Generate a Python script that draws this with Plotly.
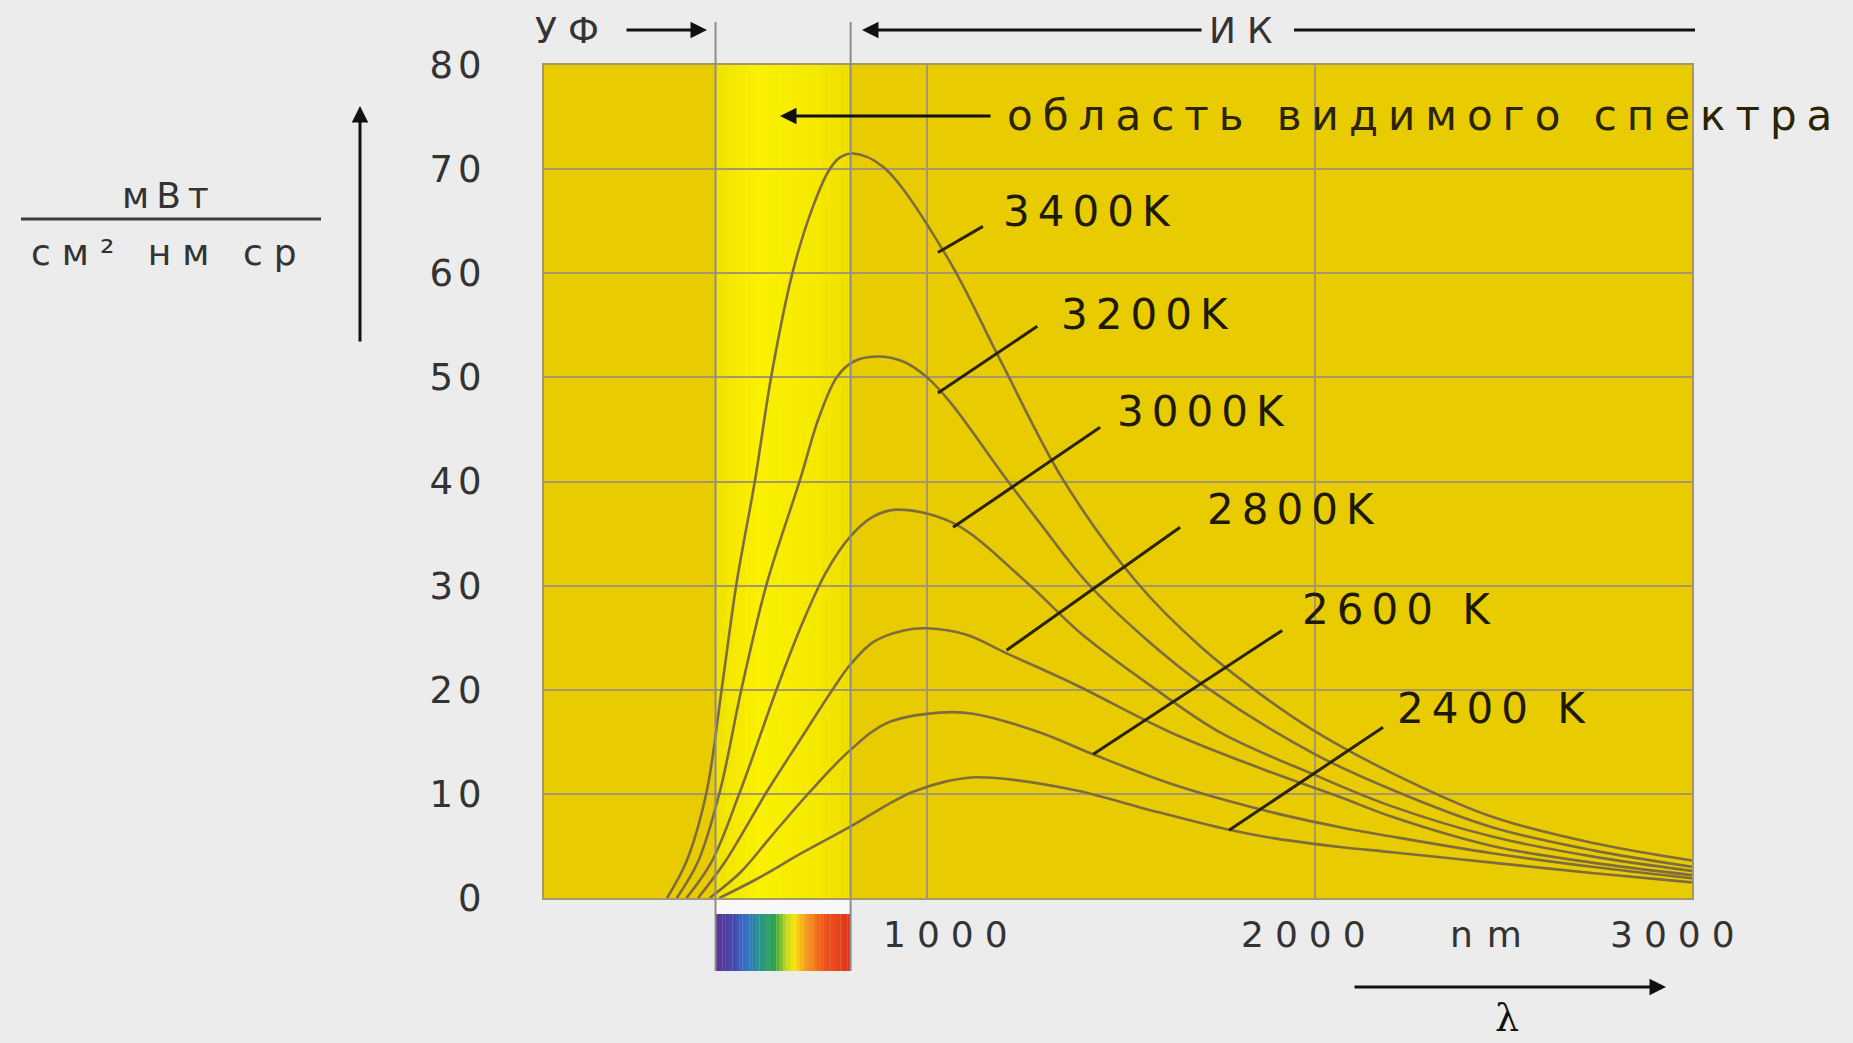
import plotly.graph_objects as go

# ---------------- data ----------------
curve_names = ["3400K", "3200K", "3000K", "2800K", "2600 K", "2400 K"]

wl_3400 = [330, 380, 432, 471, 509, 557, 600, 655, 706, 746, 775, 810, 887, 1051, 1188, 1350, 1541, 1703, 1858, 2000, 2198, 2456, 2713, 2971]
rad_3400 = [0, 3.5, 10.2, 20.1, 30.2, 40.2, 50.4, 60.3, 66.4, 69.8, 71.1, 71.5, 70.2, 61.6, 51.7, 40.2, 30.3, 24.2, 19.6, 16.0, 12.0, 7.8, 5.3, 3.6]

wl_3200 = [355, 410, 466, 522, 587, 673, 720, 767, 810, 870, 940, 1000, 1060, 1205, 1291, 1412, 1560, 1721, 2000, 2198, 2456, 2713, 2971]
rad_3200 = [0, 3.5, 10.2, 20.1, 30.2, 40.2, 46.0, 50.0, 51.5, 52.0, 51.5, 50.0, 47.6, 40.2, 36.0, 30.3, 25.0, 20.2, 13.8, 10.4, 6.8, 4.6, 3.0]

wl_3000 = [380, 445, 518, 613, 680, 740, 802, 860, 922, 1068, 1257, 1400, 1583, 1760, 2000, 2198, 2456, 2713, 2971]
rad_3000 = [0, 3.5, 10.2, 20.1, 26.5, 31.3, 34.7, 36.6, 37.3, 36.0, 30.3, 25.3, 20.2, 15.8, 11.8, 8.8, 5.9, 4.0, 2.6]

wl_2800 = [410, 480, 587, 673, 758, 802, 862, 940, 1000, 1100, 1205, 1376, 1634, 1892, 2064, 2198, 2456, 2713, 2971]
rad_2800 = [0, 3.5, 10.2, 15.2, 20.1, 22.4, 24.6, 25.7, 25.9, 25.3, 23.5, 20.6, 15.8, 12.0, 9.7, 7.8, 5.0, 3.4, 2.2]

wl_2600 = [440, 520, 600, 698, 802, 896, 1033, 1118, 1291, 1428, 1634, 1892, 2064, 2198, 2456, 2713, 2971]
rad_2600 = [0, 2.5, 6.0, 10.2, 14.2, 16.8, 17.8, 17.7, 15.9, 13.8, 10.9, 8.2, 6.8, 5.9, 4.3, 3.0, 1.9]

wl_2400 = [465, 560, 681, 809, 900, 964, 1050, 1130, 1376, 1549, 1772, 1900, 2064, 2198, 2456, 2713, 2971]
rad_2400 = [0, 1.8, 4.4, 7.0, 9.0, 10.2, 11.2, 11.6, 10.4, 8.7, 6.6, 5.7, 4.9, 4.4, 3.4, 2.4, 1.5]

y_tick_values = [0, 10, 20, 30, 40, 50, 60, 70, 80]
x_grid_values = [1000, 2000]
x_tick_labels = ["1000", "2000", "3000"]
x_tick_label_pos = [1062, 1984, 2935]
visible_band = [455, 803]

# ---------------- geometry / style ----------------
W, H = 1853, 1043
L, R, T, B = 544, 161, 65, 145
PW, PH = W - L - R, H - T - B
X_RANGE = [13, 2971]
Y_RANGE = [0, 80]

PAPER_BG = "#ECECEC"
PLOT_BG = "#E8CB00"
GRID = "#A6976C"
CURVE = "#7E6C3E"
LEADER = "#2A2400"
TEXT = "#333333"
LABEL = "#1E1A00"
FONT = "DejaVu Sans"


def px_x(fx):
    return (fx - L) / PW


def px_y(fy):
    return (H - B - fy) / PH


def spaced(text, ls):
    return '<span style="letter-spacing:%dpx">%s</span>' % (ls, text)


def lerp_color(stops, t):
    for i in range(len(stops) - 1):
        t0, c0 = stops[i]
        t1, c1 = stops[i + 1]
        if t0 <= t <= t1:
            f = 0 if t1 == t0 else (t - t0) / (t1 - t0)
            c = [round(c0[k] + (c1[k] - c0[k]) * f) for k in range(3)]
            return "rgb(%d,%d,%d)" % tuple(c)
    return "rgb(%d,%d,%d)" % tuple(stops[-1][1])


fig = go.Figure()

wls = [wl_3400, wl_3200, wl_3000, wl_2800, wl_2600, wl_2400]
rads = [rad_3400, rad_3200, rad_3000, rad_2800, rad_2600, rad_2400]
for name, xs, ys in zip(curve_names, wls, rads):
    fig.add_trace(go.Scatter(
        x=xs, y=ys, mode="lines", name=name, showlegend=False, hoverinfo="skip",
        line=dict(color=CURVE, width=2.6, shape="spline", smoothing=1.0),
    ))

shapes = []
annotations = []

# visible band (bright yellow gradient)
band_stops = [(0.0, (240, 226, 0)), (0.3, (250, 240, 0)), (0.7, (246, 235, 0)), (1.0, (238, 221, 0))]
n_band = 14
bx0, bx1 = visible_band
for i in range(n_band):
    a = bx0 + (bx1 - bx0) * i / n_band
    b = bx0 + (bx1 - bx0) * (i + 1) / n_band
    shapes.append(dict(type="rect", xref="x", yref="y", x0=a, x1=b + 1, y0=Y_RANGE[0], y1=Y_RANGE[1],
                       fillcolor=lerp_color(band_stops, (i + 0.5) / n_band), line=dict(width=0), layer="below"))

# white gap under plot between band edges
shapes.append(dict(type="rect", xref="x", yref="paper", x0=bx0, x1=bx1, y0=px_y(914), y1=px_y(900),
                   fillcolor="#F8F8F8", line=dict(width=0), layer="above"))

# spectrum bar
spec_stops = [(0.0, (92, 52, 150)), (0.12, (72, 68, 168)), (0.22, (52, 110, 200)), (0.33, (40, 150, 140)),
              (0.44, (50, 165, 70)), (0.52, (190, 215, 30)), (0.58, (248, 232, 10)), (0.66, (246, 160, 30)),
              (0.8, (240, 85, 25)), (1.0, (222, 50, 30))]
n_spec = 40
for i in range(n_spec):
    a = bx0 + (bx1 - bx0) * i / n_spec
    b = bx0 + (bx1 - bx0) * (i + 1) / n_spec
    shapes.append(dict(type="rect", xref="x", yref="paper", x0=a, x1=b + 0.5, y0=px_y(971), y1=px_y(914),
                       fillcolor=lerp_color(spec_stops, (i + 0.5) / n_spec), line=dict(width=0), layer="above"))

# band boundary lines, extended above and below the plot
for xv in visible_band:
    shapes.append(dict(type="line", xref="x", yref="paper", x0=xv, x1=xv, y0=px_y(971), y1=px_y(22),
                       line=dict(color="#8C8C8C", width=2), layer="above"))

# leader lines from labels to curves
leaders = [((1028, 62.0), (1144, 64.5)), ((1028, 48.5), (1284, 54.9)), ((1067, 35.6), (1446, 45.2)),
           ((1205, 23.8), (1652, 35.6)), ((1428, 13.8), (1915, 25.7)), ((1778, 6.5), (2175, 16.4))]
for (x0, y0), (x1, y1) in leaders:
    shapes.append(dict(type="line", xref="x", yref="y", x0=x0, y0=y0, x1=x1, y1=y1,
                       line=dict(color=LEADER, width=3), layer="above"))

# curve labels
label_pos = [(1191, 65.9), (1340, 56.0), (1484, 46.7), (1716, 37.3), (1961, 27.7), (2205, 18.2)]
for name, (lx, ly) in zip(curve_names, label_pos):
    annotations.append(dict(x=lx, y=ly, xref="x", yref="y", text=spaced(name, 8), showarrow=False,
                            xanchor="left", yanchor="middle", font=dict(family=FONT, size=42, color=LABEL)))

# x tick labels and unit
for t, xv in zip(x_tick_labels, x_tick_label_pos):
    annotations.append(dict(x=xv, y=px_y(934), xref="x", yref="paper", text=spaced(t, 11), showarrow=False,
                            xanchor="center", yanchor="middle", font=dict(family=FONT, size=36, color=TEXT)))
annotations.append(dict(x=px_x(1493), y=px_y(934), xref="paper", yref="paper", text=spaced("nm", 14),
                        showarrow=False, xanchor="center", yanchor="middle",
                        font=dict(family=FONT, size=36, color=TEXT)))

# lambda with arrow
annotations.append(dict(x=px_x(1666), y=px_y(987), xref="paper", yref="paper", text="", showarrow=True,
                        ax=-313, ay=0, arrowhead=2, arrowsize=1.1, arrowwidth=3, arrowcolor="#111111"))
annotations.append(dict(x=px_x(1507), y=px_y(1018), xref="paper", yref="paper", text="λ", showarrow=False,
                        xanchor="center", yanchor="middle",
                        font=dict(family="DejaVu Serif", size=38, color="#111111")))

# y-axis unit fraction and upward arrow
annotations.append(dict(x=px_x(169), y=px_y(195), xref="paper", yref="paper", text=spaced("мВт", 7),
                        showarrow=False, xanchor="center", yanchor="middle",
                        font=dict(family=FONT, size=36, color=TEXT)))
annotations.append(dict(x=px_x(169), y=px_y(252), xref="paper", yref="paper", text=spaced("см² нм ср", 11),
                        showarrow=False, xanchor="center", yanchor="middle",
                        font=dict(family=FONT, size=36, color=TEXT)))
shapes.append(dict(type="line", xref="paper", yref="paper", x0=px_x(21), x1=px_x(321), y0=px_y(219), y1=px_y(219),
                   line=dict(color="#3A3A3A", width=3)))
annotations.append(dict(x=px_x(360), y=px_y(106), xref="paper", yref="paper", text="", showarrow=True,
                        ax=0, ay=237, arrowhead=2, arrowsize=1.1, arrowwidth=3, arrowcolor="#111111"))

# top: UV / IR markers
annotations.append(dict(x=px_x(572), y=px_y(31), xref="paper", yref="paper", text=spaced("УФ", 11),
                        showarrow=False, xanchor="center", yanchor="middle",
                        font=dict(family=FONT, size=36, color=TEXT)))
annotations.append(dict(x=px_x(707), y=px_y(30), xref="paper", yref="paper", text="", showarrow=True,
                        ax=-82, ay=0, arrowhead=2, arrowsize=1.1, arrowwidth=3, arrowcolor="#111111"))
annotations.append(dict(x=px_x(1246), y=px_y(31), xref="paper", yref="paper", text=spaced("ИК", 11),
                        showarrow=False, xanchor="center", yanchor="middle",
                        font=dict(family=FONT, size=36, color=TEXT)))
annotations.append(dict(x=px_x(862), y=px_y(30), xref="paper", yref="paper", text="", showarrow=True,
                        ax=341, ay=0, arrowhead=2, arrowsize=1.1, arrowwidth=3, arrowcolor="#111111"))
shapes.append(dict(type="line", xref="paper", yref="paper", x0=px_x(1294), x1=px_x(1695), y0=px_y(30), y1=px_y(30),
                   line=dict(color="#111111", width=3)))

# visible spectrum label with arrow
annotations.append(dict(x=px_x(1005), y=px_y(116), xref="paper", yref="paper",
                        text=spaced("область видимого спектра", 10),
                        showarrow=False, xanchor="left", yanchor="middle",
                        font=dict(family=FONT, size=42, color="#2A2400")))
annotations.append(dict(x=px_x(780), y=px_y(116), xref="paper", yref="paper", text="", showarrow=True,
                        ax=212, ay=0, arrowhead=2, arrowsize=1.1, arrowwidth=3, arrowcolor="#111111"))

fig.update_layout(
    width=W, height=H,
    margin=dict(l=L, r=R, t=T, b=B, pad=0),
    paper_bgcolor=PAPER_BG, plot_bgcolor=PLOT_BG,
    shapes=shapes, annotations=annotations,
    showlegend=False,
    xaxis=dict(range=X_RANGE, tickvals=x_grid_values, showticklabels=False, ticks="",
               showgrid=True, gridcolor=GRID, gridwidth=2, zeroline=False,
               showline=True, mirror=True, linecolor=GRID, linewidth=2, fixedrange=True),
    yaxis=dict(range=Y_RANGE, tickvals=y_tick_values,
               ticktext=[spaced(str(v), 5) for v in y_tick_values],
               ticks="", ticklabelstandoff=48,
               tickfont=dict(family=FONT, size=37, color=TEXT),
               showgrid=True, gridcolor=GRID, gridwidth=2, zeroline=False,
               showline=True, mirror=True, linecolor=GRID, linewidth=2, fixedrange=True),
)

fig.write_html(
    "out.html",
    config={"displayModeBar": False},
    post_script="document.body.style.margin='0';document.body.style.overflow='hidden';",
)
